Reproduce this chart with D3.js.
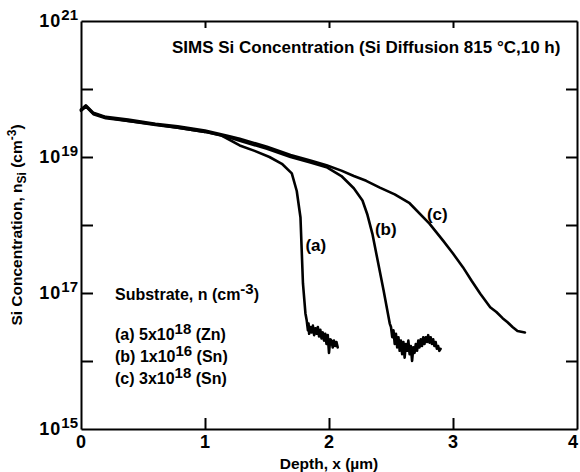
<!DOCTYPE html>
<meta charset="utf-8">
<style>
body { margin: 0; background: #fff; }
svg { font-family: "Liberation Sans", Arial, sans-serif; font-weight: bold; }
.axis path, .axis line { fill: none; stroke: #000; stroke-width: 2; }
.curve { fill: none; stroke: #000; stroke-width: 2.6; stroke-linejoin: round; stroke-linecap: round; }
</style>
<body>
<script src="https://cdn.jsdelivr.net/npm/d3@7/dist/d3.min.js"></script>
<script>

// depth (um) and log10 of Si concentration (cm^-3)
var depthA = [0, 0.04, 0.1, 0.2, 0.38, 0.6, 0.78, 1.0, 1.13, 1.28, 1.4, 1.52, 1.62, 1.70, 1.74, 1.77, 1.79, 1.81,
  1.82, 1.83, 1.835, 1.84, 1.85, 1.86, 1.87, 1.88, 1.89, 1.90, 1.91, 1.92, 1.93, 1.94, 1.95, 1.96, 1.97, 1.98, 1.99,
  2.00, 2.01, 2.02, 2.03, 2.04, 2.05, 2.06, 2.07];
var logA = [19.69, 19.75, 19.64, 19.58, 19.53, 19.48, 19.43, 19.37, 19.32, 19.17, 19.09, 19.0, 18.9, 18.76, 18.5, 18.11, 17.14, 16.7,
  16.6, 16.45, 16.55, 16.4, 16.5, 16.42, 16.52, 16.38, 16.48, 16.4, 16.5, 16.36, 16.46, 16.33, 16.42, 16.3, 16.4, 16.25, 16.38,
  16.12, 16.32, 16.3, 16.2, 16.3, 16.22, 16.28, 16.2];

var depthB = [0, 0.04, 0.1, 0.2, 0.38, 0.6, 0.78, 1.0, 1.19, 1.28, 1.5, 1.69, 1.85, 1.98, 2.1, 2.2, 2.27, 2.31, 2.35, 2.44, 2.49,
  2.50, 2.51, 2.52, 2.53, 2.54, 2.55, 2.56, 2.57, 2.58, 2.59, 2.60, 2.61, 2.62, 2.63, 2.64, 2.65, 2.66, 2.67, 2.68, 2.69,
  2.70, 2.71, 2.72, 2.73, 2.74, 2.75, 2.76, 2.77, 2.78, 2.79, 2.80, 2.81, 2.82, 2.83, 2.84, 2.85, 2.86, 2.87, 2.88, 2.89, 2.90];
var logB = [19.68, 19.74, 19.63, 19.57, 19.53, 19.47, 19.43, 19.37, 19.29, 19.24, 19.12, 19.0, 18.92, 18.85, 18.72, 18.54, 18.36, 18.15, 17.87, 17.04, 16.55,
  16.5, 16.35, 16.45, 16.25, 16.4, 16.2, 16.35, 16.15, 16.3, 16.1, 16.28, 16.05, 16.25, 16.15, 16.3, 16.1, 16.22, 16.0, 16.2, 16.12,
  16.25, 16.15, 16.3, 16.2, 16.32, 16.22, 16.35, 16.25, 16.35, 16.28, 16.38, 16.27, 16.35, 16.25, 16.32, 16.22, 16.28, 16.18, 16.22, 16.15, 16.18];

var depthC = [0, 0.04, 0.1, 0.2, 0.38, 0.6, 0.78, 1.0, 1.19, 1.28, 1.5, 1.69, 1.85, 1.98, 2.1, 2.2, 2.3, 2.41, 2.53, 2.65, 2.81,
  2.92, 3.0, 3.08, 3.15, 3.22, 3.30, 3.35, 3.40, 3.44, 3.48, 3.52, 3.55, 3.58];
var logC = [19.7, 19.76, 19.65, 19.59, 19.55, 19.49, 19.45, 19.39, 19.31, 19.27, 19.15, 19.03, 18.95, 18.88, 18.8, 18.72, 18.65, 18.55, 18.45, 18.32, 18.02,
  17.77, 17.58, 17.38, 17.18, 16.99, 16.79, 16.72, 16.63, 16.57, 16.5, 16.44, 16.43, 16.42];

var curveNames = ["(a)", "(b)", "(c)"];
var curveLabelAt = [[1.81, 17.62], [2.37, 17.85], [2.79, 18.07]];

var legendLines = ["Substrate, n (cm", "(a) 5x10", "(b) 1x10", "(c) 3x10"];
var legendSups = ["-3", "18", "16", "18"];
var legendTails = [")", " (Zn)", " (Sn)", " (Sn)"];

var xTicks = [0, 1, 2, 3, 4];
var yExp = [15, 16, 17, 18, 19, 20, 21];
var yLabelExp = [15, 17, 19, 21];

var margin = {top: 21, right: 3, bottom: 43, left: 81},
    width = 580 - margin.left - margin.right,
    height = 472 - margin.top - margin.bottom;

var x = d3.scaleLinear().domain([0, 4]).range([0, width]);
var y = d3.scaleLog().domain([1e15, 1e21]).range([height, 0]);

var svg = d3.select("body").append("svg")
    .attr("width", 580)
    .attr("height", 472)
  .append("g")
    .attr("transform", "translate(" + margin.left + "," + margin.top + ")");

var yVals = yExp.map(function(e) { return Math.pow(10, e); });

// axes, all ticks point inward
svg.append("g").attr("class", "axis")
    .attr("transform", "translate(0," + height + ")")
    .call(d3.axisBottom(x).tickValues([1, 2, 3]).tickSize(-11).tickSizeOuter(0).tickFormat(""));
svg.append("g").attr("class", "axis")
    .call(d3.axisTop(x).tickValues([1, 2, 3]).tickSize(-7).tickSizeOuter(0).tickFormat(""));
svg.append("g").attr("class", "axis")
    .call(d3.axisLeft(y).tickValues(yVals.slice(1, -1)).tickSize(-12).tickSizeOuter(0).tickFormat(""));
svg.append("g").attr("class", "axis")
    .attr("transform", "translate(" + width + ",0)")
    .call(d3.axisRight(y).tickValues(yVals.slice(1, -1)).tickSize(-11).tickSizeOuter(0).tickFormat(""));

// x tick labels (the last one is pulled in so it stays inside the page)
svg.selectAll(".xl").data(xTicks).enter().append("text")
    .attr("x", function(d, i) { return i === xTicks.length - 1 ? x(d) + 1 : x(d); })
    .attr("y", height + 19)
    .attr("text-anchor", function(d, i) { return i === xTicks.length - 1 ? "end" : "middle"; })
    .attr("font-size", 18)
    .text(function(d) { return d; });

// y tick labels 10^n
var yl = svg.selectAll(".yl").data(yLabelExp).enter().append("text")
    .attr("x", -3)
    .attr("y", function(d) { return y(Math.pow(10, d)) + 6; })
    .attr("text-anchor", "end")
    .attr("font-size", 18);
yl.append("tspan").attr("letter-spacing", 1).text("10");
yl.append("tspan").attr("dy", -7).attr("font-size", 15).text(function(d) { return d; });

// axis titles
svg.append("text")
    .attr("x", x(2))
    .attr("y", height + 40)
    .attr("text-anchor", "middle")
    .attr("font-size", 15.5)
    .text("Depth, x (\u00b5m)");

var yt = svg.append("text")
    .attr("transform", "translate(-59," + (height / 2 + 0) + ") rotate(-90)")
    .attr("text-anchor", "middle")
    .attr("font-size", 15.5);
yt.append("tspan").text("Si Concentration, n");
yt.append("tspan").attr("dy", 4).attr("font-size", 12).text("Si");
yt.append("tspan").attr("dy", -4).text(" (cm");
yt.append("tspan").attr("dy", -6).attr("font-size", 12).text("-3");
yt.append("tspan").attr("dy", 6).text(")");

// title
svg.append("text")
    .attr("x", 91)
    .attr("y", 32)
    .attr("font-size", 17)
    .text("SIMS Si Concentration (Si Diffusion 815 \u00b0C,10 h)");

// curves
var line = d3.line()
    .x(function(d) { return x(d[0]); })
    .y(function(d) { return y(Math.pow(10, d[1])); });

var series = [[depthA, logA], [depthB, logB], [depthC, logC]];
series.forEach(function(s) {
  var pts = s[0].map(function(d, i) { return [d, s[1][i]]; });
  svg.append("path").datum(pts).attr("class", "curve").attr("d", line);
});

svg.selectAll(".cl").data(curveNames).enter().append("text")
    .attr("x", function(d, i) { return x(curveLabelAt[i][0]); })
    .attr("y", function(d, i) { return y(Math.pow(10, curveLabelAt[i][1])); })
    .attr("font-size", 17)
    .text(function(d) { return d; });

// legend
var lg = svg.selectAll(".lg").data(legendLines).enter().append("text")
    .attr("x", 34)
    .attr("y", function(d, i) { return i === 0 ? 279 : 297 + i * 22; })
    .attr("font-size", 16);
lg.append("tspan").text(function(d) { return d; });
lg.append("tspan").attr("dy", -6).attr("font-size", 15).text(function(d, i) { return legendSups[i]; });
lg.append("tspan").attr("dy", 6).text(function(d, i) { return legendTails[i]; });

</script>
